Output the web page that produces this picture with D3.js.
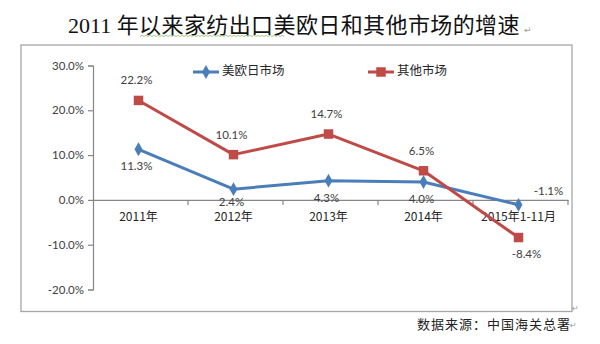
<!DOCTYPE html>
<html><head><meta charset="utf-8">
<script src="https://cdn.jsdelivr.net/npm/d3@7"></script>
<style>
html,body{margin:0;padding:0;background:#fff;}
svg{display:block;}
</style></head>
<body>
<svg id="chart" width="600" height="344"></svg>
<script>
// ---- data ----
const categories = ["2011年", "2012年", "2013年", "2014年", "2015年1-11月"];
const usEuJapan = [0.113, 0.024, 0.043, 0.040, -0.011];
const otherMarkets = [0.222, 0.101, 0.147, 0.065, -0.084];
const seriesNames = ["美欧日市场", "其他市场"];
const yTicks = [-0.2, -0.1, 0, 0.1, 0.2, 0.3];
const blueLabelPos = ["below", "below", "below", "below", "aboveRight"];
const redLabelPos = ["above", "above", "above", "above", "below"];
const titleText = "2011 年以来家纺出口美欧日和其他市场的增速";
const sourceText = "数据来源：中国海关总署";

// ---- drawing ----
const svg = d3.select("#chart");
const blue = "#4A7EBB", red = "#BE4B48";
const numFont = "Lato, 'Open Sans', sans-serif";
const cjkFont = "'Noto Sans CJK SC', sans-serif";
const locale = d3.formatLocale({decimal: ".", thousands: ",", grouping: [3], currency: ["", ""], minus: "-"});
const fmt = locale.format(".1%");

// title
const title = svg.append("text").attr("x", 68).attr("y", 33)
  .attr("font-size", 22).attr("fill", "#111");
title.append("tspan").attr("font-family", "'Liberation Serif', serif").text(titleText.slice(0, 5));
title.append("tspan").attr("font-family", cjkFont).attr("letter-spacing", 0.4).text(titleText.slice(5));
// spell-check wavy underline
(function(){
  const p = d3.path(); let x0 = 140, x1 = 284, yb = 36.5;
  p.moveTo(x0, yb);
  let up = true;
  for (let xx = x0 + 2; xx <= x1; xx += 2) { p.lineTo(xx, up ? yb - 1.2 : yb); up = !up; }
  svg.append("path").attr("d", p.toString()).attr("fill", "none").attr("stroke", "#8fbf6f").attr("stroke-width", 0.8);
})();
svg.append("text").attr("x", 524).attr("y", 33).attr("font-size", 9).attr("fill", "#999")
  .attr("font-family", "'DejaVu Sans'").text("↵");

// frame
svg.append("rect").attr("x", 21).attr("y", 45).attr("width", 551).attr("height", 266.5)
  .attr("fill", "#fff").attr("stroke", "#a6a6a6").attr("stroke-width", 1.3);
svg.append("text").attr("x", 572).attr("y", 311).attr("font-size", 8).attr("fill", "#999")
  .attr("font-family", "'DejaVu Sans'").text("↵");

// scales
const x = d3.scaleBand().domain(categories).range([93, 568]);
const y = d3.scaleLinear().domain([-0.2, 0.3]).range([289.5, 65.5]);

// y axis
const yAxis = svg.append("g").attr("transform", "translate(93,0)")
  .call(d3.axisLeft(y).tickValues(yTicks).tickFormat(fmt).tickSize(5).tickPadding(4));
yAxis.select(".domain").attr("stroke", "#868686").attr("stroke-width", 1.2);
yAxis.selectAll(".tick line").attr("stroke", "#868686").attr("stroke-width", 1.2);
yAxis.selectAll(".tick text").attr("font-family", numFont).attr("font-size", 11.5).attr("fill", "#404040");

// x axis at zero
const xAxis = svg.append("g").attr("transform", `translate(0,${y(0)})`)
  .call(d3.axisBottom(x).tickSize(0).tickPadding(0).tickFormat(""));
xAxis.select(".domain").attr("stroke", "#868686").attr("stroke-width", 1.2);
xAxis.selectAll(".tick").remove();
const bounds = categories.map(c => x(c)).concat([x.range()[1]]);
xAxis.selectAll("line.bt").data(bounds.slice(1)).join("line").attr("class", "bt")
  .attr("x1", d => d).attr("x2", d => d).attr("y1", 0).attr("y2", 5)
  .attr("stroke", "#868686").attr("stroke-width", 1.2);
svg.selectAll("text.cat").data(categories).join("text").attr("class", "cat")
  .attr("x", d => x(d) + x.bandwidth() / 2 - 2).attr("y", y(0) + 18)
  .attr("dominant-baseline", "middle").attr("text-anchor", "middle")
  .attr("font-family", cjkFont).attr("font-size", 12).attr("fill", "#262626")
  .text(d => d);

const cx = c => x(c) + x.bandwidth() / 2 - 2;

function drawSeries(vals, color, marker, labelPos) {
  const line = d3.line().x((d, i) => cx(categories[i])).y(d => y(d));
  svg.append("path").datum(vals).attr("d", line).attr("fill", "none")
    .attr("stroke", color).attr("stroke-width", 3).attr("stroke-linejoin", "round");
  const sym = d3.symbol().type(marker === "diamond" ? d3.symbolDiamond : d3.symbolSquare)
    .size(marker === "diamond" ? 55 : 90);
  svg.selectAll(null).data(vals).join("path")
    .attr("transform", (d, i) => `translate(${cx(categories[i])},${y(d)})`)
    .attr("d", sym).attr("fill", color);
  svg.selectAll(null).data(vals).join("text")
    .attr("x", (d, i) => cx(categories[i]) + (labelPos[i] === "aboveRight" ? 30 : labelPos[i] === "below" && d < -0.05 ? 8 : -2))
    .attr("y", (d, i) => y(d) + (labelPos[i] === "above" ? -19 : labelPos[i] === "aboveRight" ? -13 : (d < 0.03 && d > 0 ? 13.5 : 18)))
    .attr("text-anchor", "middle").attr("dominant-baseline", "middle")
    .attr("font-family", numFont).attr("font-size", 11.5).attr("fill", "#404040")
    .text(d => fmt(d));
}
drawSeries(usEuJapan, blue, "diamond", blueLabelPos);
drawSeries(otherMarkets, red, "square", redLabelPos);

// legend
const legend = [{name: seriesNames[0], color: blue, marker: "diamond", x: 193},
                {name: seriesNames[1], color: red, marker: "square", x: 368}];
legend.forEach(l => {
  const g = svg.append("g").attr("transform", `translate(${l.x},72)`);
  g.append("line").attr("x1", 0).attr("x2", 26).attr("stroke", l.color).attr("stroke-width", 3);
  g.append("path").attr("transform", "translate(13,0)")
    .attr("d", d3.symbol().type(l.marker === "diamond" ? d3.symbolDiamond : d3.symbolSquare).size(l.marker === "diamond" ? 55 : 90))
    .attr("fill", l.color);
  g.append("text").attr("x", 29).attr("y", 0).attr("dominant-baseline", "middle")
    .attr("font-family", cjkFont).attr("font-size", 12.5).attr("fill", "#262626").text(l.name);
});

// source
svg.append("text").attr("x", 417).attr("y", 325).attr("dominant-baseline", "middle")
  .attr("font-family", cjkFont).attr("font-size", 13).attr("letter-spacing", 1).attr("fill", "#222")
  .text(sourceText);
svg.append("text").attr("x", 570).attr("y", 328).attr("font-size", 8).attr("fill", "#999")
  .attr("font-family", "'DejaVu Sans'").text("↵");
</script>
</body></html>
